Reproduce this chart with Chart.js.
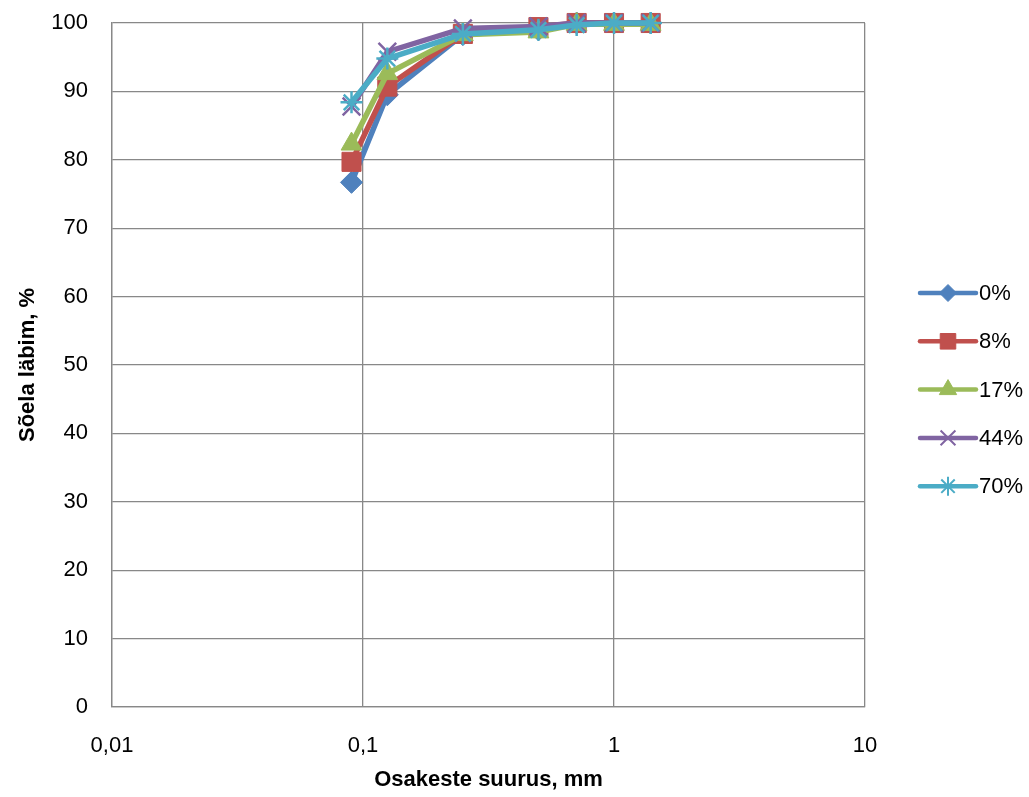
<!DOCTYPE html>
<html>
<head>
<meta charset="utf-8">
<script src="https://cdn.jsdelivr.net/npm/chart.js@4.4.1/dist/chart.umd.min.js"></script>
<style>
  html, body { margin: 0; padding: 0; background: #ffffff; }
  #wrap { width: 1029px; height: 797px; position: relative; }
</style>
</head>
<body>
<div id="wrap"><canvas id="c" width="1029" height="797"></canvas></div>
<script>
// ---- data ----
const sieveSizes = [0.09, 0.125, 0.25, 0.5, 0.71, 1, 1.4];
const seriesNames = ['0%', '8%', '17%', '44%', '70%'];
const pass0  = [76.7, 89.5, 98.3, 99.0, 100, 100, 100];
const pass8  = [79.7, 90.7, 98.4, 99.4, 100, 100, 100];
const pass17 = [82.3, 92.6, 98.3, 98.7, 99.8, 99.8, 99.8];
const pass44 = [87.8, 95.8, 99.2, 99.5, 100, 100, 100];
const pass70 = [88.4, 94.8, 98.4, 99.0, 99.7, 100, 100];
const xTickValues = [0.01, 0.1, 1, 10];
const xTickLabels = ['0,01', '0,1', '1', '10'];
const yTickStep = 10;

const seriesValues = [pass0, pass8, pass17, pass44, pass70];
const colors = ['#4F81BD', '#C0504D', '#9BBB59', '#8064A2', '#4BACC6'];
const styles = ['rectRot', 'rect', 'triangle', 'crossRot', 'star'];
const radii  = [11, 13.5, 12, 12.5, 11];
const legendRadii = [8.5, 11, 10, 10.5, 9.5];

const FONT = '"Liberation Sans", Arial, sans-serif';
const GRID = '#888888';

const datasets = seriesNames.map((name, i) => ({
  label: name,
  data: sieveSizes.map((x, j) => ({ x: x, y: seriesValues[i][j] })),
  borderColor: colors[i],
  backgroundColor: colors[i],
  borderWidth: 5.5,
  pointStyle: styles[i],
  pointRadius: radii[i],
  pointHoverRadius: radii[i],
  pointBorderWidth: (styles[i] === 'crossRot' || styles[i] === 'star') ? 2.5 : 1,
  pointBorderColor: colors[i],
  pointBackgroundColor: colors[i],
  tension: 0,
  clip: false,
  order: seriesNames.length - i
}));

const legendPlugin = {
  id: 'sideLegend',
  afterDraw(chart) {
    const ctx = chart.ctx;
    const x0 = 920, x1 = 976, mx = 948, tx = 979;
    const yStart = 293, dy = 48.3;
    ctx.save();
    seriesNames.forEach((name, i) => {
      const y = yStart + i * dy;
      ctx.strokeStyle = colors[i];
      ctx.lineWidth = 4.5;
      ctx.lineCap = 'round';
      ctx.beginPath();
      ctx.moveTo(x0, y);
      ctx.lineTo(x1, y);
      ctx.stroke();
      ctx.lineCap = 'butt';
      ctx.fillStyle = colors[i];
      ctx.strokeStyle = colors[i];
      ctx.lineWidth = (styles[i] === 'crossRot' || styles[i] === 'star') ? 2 : 1;
      Chart.helpers.drawPoint(ctx, {
        pointStyle: styles[i],
        radius: legendRadii[i],
        rotation: 0,
        borderWidth: ctx.lineWidth
      }, mx, y);
      ctx.fillStyle = '#000000';
      ctx.font = '22px ' + FONT;
      ctx.textAlign = 'left';
      ctx.textBaseline = 'middle';
      ctx.fillText(name, tx, y + 1);
    });
    ctx.restore();
  }
};

new Chart(document.getElementById('c'), {
  type: 'line',
  data: { datasets: datasets },
  options: {
    responsive: false,
    animation: false,
    devicePixelRatio: 1,
    layout: { autoPadding: false, padding: { left: 0, right: 164, top: 23, bottom: 0 } },
    plugins: {
      legend: { display: false },
      tooltip: { enabled: false }
    },
    scales: {
      x: {
        type: 'logarithmic',
        min: 0.01,
        max: 10,
        afterBuildTicks(scale) {
          scale.ticks = xTickValues.map(v => ({ value: v }));
        },
        afterFit(scale) { scale.height = 90; scale.paddingLeft = 0; scale.paddingRight = 0; },
        ticks: {
          autoSkip: false,
          maxRotation: 0,
          color: '#000000',
          font: { family: FONT, size: 22 },
          padding: 26,
          callback(value) {
            const k = xTickValues.findIndex(t => Math.abs(t - value) < 1e-9);
            return k >= 0 ? xTickLabels[k] : '';
          }
        },
        grid: { color: GRID, lineWidth: 1.3, drawTicks: false },
        border: { color: GRID, width: 1.3 },
        title: {
          display: true,
          text: 'Osakeste suurus, mm',
          color: '#000000',
          font: { family: FONT, size: 22, weight: 'bold' },
          padding: { top: 0, bottom: 4 }
        }
      },
      y: {
        type: 'linear',
        min: 0,
        max: 100,
        afterFit(scale) { scale.width = 112; scale.paddingTop = 0; scale.paddingBottom = 0; },
        ticks: {
          stepSize: yTickStep,
          color: '#000000',
          font: { family: FONT, size: 22 },
          padding: 24
        },
        grid: { color: GRID, lineWidth: 1.3, drawTicks: false },
        border: { color: GRID, width: 1.3 },
        title: {
          display: true,
          text: 'Sõela läbim, %',
          color: '#000000',
          font: { family: FONT, size: 22, weight: 'bold' },
          padding: { top: 15, bottom: 0 }
        }
      }
    }
  },
  plugins: [legendPlugin]
});
</script>
</body>
</html>
